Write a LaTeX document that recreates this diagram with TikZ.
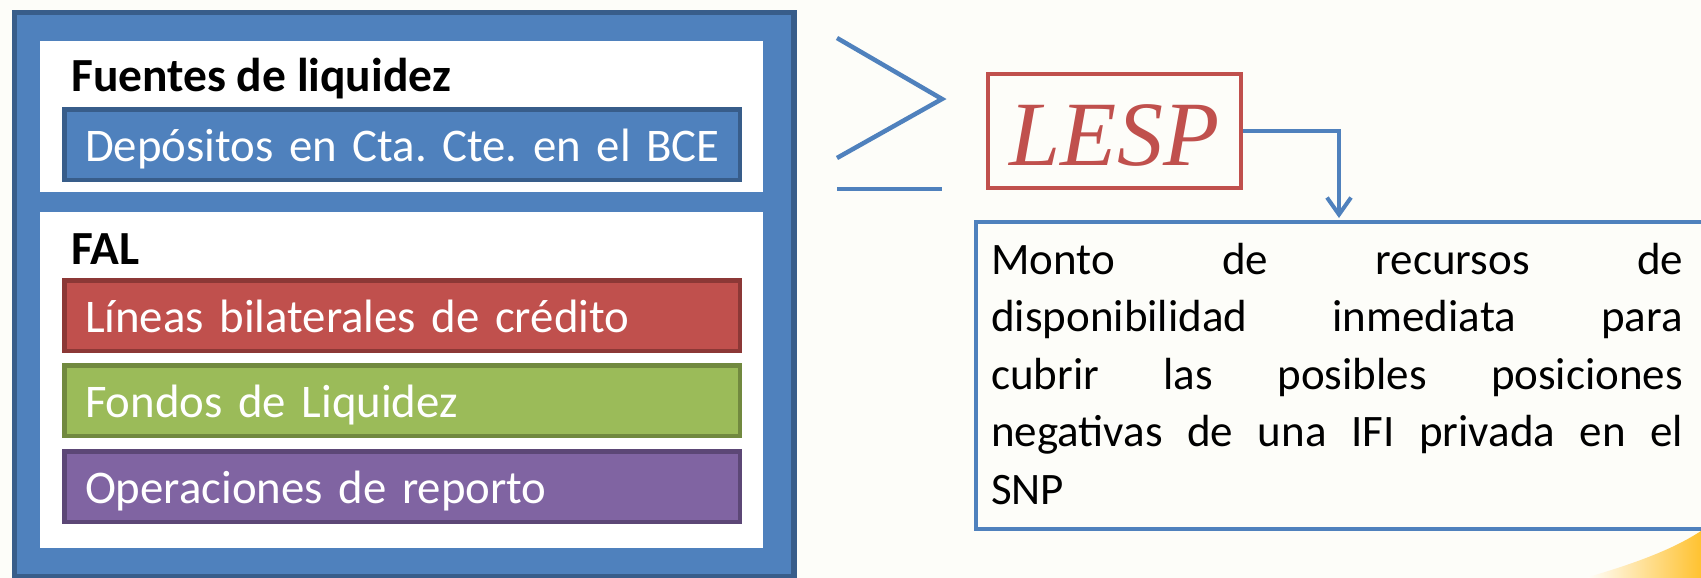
\documentclass[tikz,border=0pt]{standalone}
\usepackage{fontspec}
\setmainfont{Carlito}
\newfontfamily\lespfont{Liberation Serif}
\usetikzlibrary{arrows.meta}
\frenchspacing
\definecolor{bfill}{HTML}{4F81BD}
\definecolor{bdark}{HTML}{385D8A}
\definecolor{rfill}{HTML}{C0504D}
\definecolor{rdark}{HTML}{8C3836}
\definecolor{gfill}{HTML}{9BBB59}
\definecolor{gdark}{HTML}{71893F}
\definecolor{pfill}{HTML}{8064A2}
\definecolor{pdark}{HTML}{5C4776}
\definecolor{bgcol}{HTML}{FDFDF9}
\definecolor{swoosh}{HTML}{FFC230}
\tikzset{
  outerbox/.style={draw=bdark, fill=bfill, line width=5.5pt, inner sep=0pt, anchor=north west},
  whitebox/.style={fill=white, draw=none, inner sep=0pt, anchor=north west, minimum width=723pt},
  itembox/.style={rectangle, line width=4.5pt, minimum width=675.5pt, minimum height=70.5pt,
    text width=634pt, inner xsep=20.75pt, inner ysep=0pt, align=left, text=white,
    font=\fontsize{46.8}{55}\selectfont, text height=40pt, text depth=6pt},
  hdr/.style={anchor=base west, inner sep=0pt, font=\bfseries\fontsize{47.5}{55}\selectfont},
  geq/.style={draw=bfill, line width=4.5pt},
  conn/.style={draw=bfill, line width=4pt, -{Straight Barb[length=17pt,width=24pt,line width=4pt]}},
}
\begin{document}
\begin{tikzpicture}[x=1pt,y=-1pt]
\clip (0,0) rectangle (1701,578);
\fill[bgcol] (0,0) rectangle (1701,578);
% decorative swoosh
\shade[left color=white, right color=swoosh] (1585,578) .. controls (1640,562) and (1675,548) .. (1701,531) -- (1701,578) -- cycle;
% left panel
\node[outerbox, minimum width=779.5pt, minimum height=564.5pt] (outer) at (11.75,9.75) {};
\node[whitebox, minimum height=151pt] (topwhite) at (40,41) {};
\node[whitebox, minimum height=336pt] (botwhite) at (40,212) {};
\node[hdr] (fuentes) at (71,92) {Fuentes de liquidez};
\node[itembox, draw=bdark, fill=bfill] (dep) at (402,144.5) {\mbox{Depósitos en Cta. Cte. en el BCE}};
\node[hdr] (fal) at (71,264) {FAL};
\node[itembox, draw=rdark, fill=rfill] (lin) at (402,315.5) {\mbox{Líneas bilaterales de crédito}};
\node[itembox, draw=gdark, fill=gfill] (fon) at (402,400.5) {\mbox{Fondos de Liquidez}};
\node[itembox, draw=pdark, fill=pfill] (ope) at (402,486.5) {\mbox{Operaciones de reporto}};
% greater or equal sign
\draw[geq] (837,38) -- (942,99) -- (837,158);
\draw[geq] (837,189) -- (942,189);
% LESP
\node[draw=rfill, line width=4pt, minimum width=253pt, minimum height=114pt, inner sep=0pt,
  text=rfill, font=\lespfont\itshape\fontsize{92}{92}\selectfont, text height=68pt, text depth=0pt]
  (lesp) at (1114.5,131) {LESP};
% description box
\node[draw=bfill, line width=4pt, anchor=north west, minimum width=800pt, minimum height=307pt, inner sep=0pt]
  (desc) at (974,220) {};
\path (desc.north west) ++(365,-2) coordinate (tgt);
\draw[conn] (lesp.east) -| (tgt);
\node[anchor=base west, text width=692pt, align=justify, inner sep=0pt, font=\fontsize{45}{57.5}\selectfont]
  (desctext) at (991,274) {Monto de recursos de\linebreak disponibilidad inmediata para\linebreak cubrir las posibles posiciones\linebreak negativas de una IFI privada en el\linebreak SNP};
\end{tikzpicture}
\end{document}
